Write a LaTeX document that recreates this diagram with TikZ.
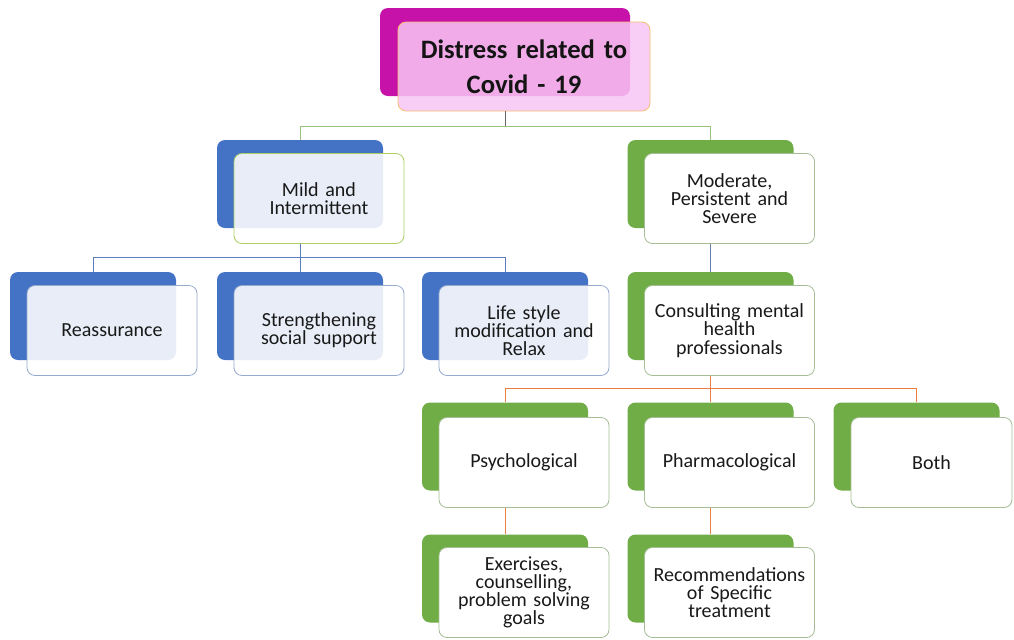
\documentclass[tikz,border=0pt]{standalone}
\usepackage{fontspec}
\setmainfont{Carlito}[WordSpace=0.8]
\usetikzlibrary{positioning}
\definecolor{rootmag}{RGB}{198,18,168}
\definecolor{rootpink}{RGB}{248,198,244}
\definecolor{rootedge}{RGB}{246,190,110}
\definecolor{officeblue}{RGB}{68,114,196}
\definecolor{officegreen}{RGB}{112,173,71}
\definecolor{blueedge}{RGB}{150,170,205}
\definecolor{greenedge}{RGB}{165,190,150}
\definecolor{linkgreen}{RGB}{150,195,120}
\definecolor{linkblue}{RGB}{90,125,190}
\definecolor{linkorange}{RGB}{232,125,70}

\begin{document}
\begin{tikzpicture}[x=0.5pt, y=-0.5pt,
    backbox/.style={rectangle, rounded corners=4pt, minimum width=83pt, minimum height=44pt, inner sep=0pt},
    blueback/.style={backbox, fill=officeblue},
    greenback/.style={backbox, fill=officegreen},
    frontbox/.style={rectangle, rounded corners=4pt, minimum width=85pt, minimum height=45pt, text width=82pt, align=center, inner sep=0pt, font=\fontsize{10}{9.1}\selectfont, text=black!90, text opacity=1},
    bluefront/.style={frontbox, draw=blueedge, fill=white, fill opacity=0.88},
    greenfront/.style={frontbox, draw=greenedge, fill=white},
    link/.style={line width=0.5pt},
]
    \useasboundingbox (0,0) rectangle (1014,639);

    % top level
    \node[backbox, fill=rootmag, minimum width=125pt] (root-b) at (505,52) {};
    \node[frontbox, draw=rootedge, fill=rootpink, fill opacity=0.85, minimum width=126pt, minimum height=44.5pt, text width=124pt, font=\fontsize{13.3}{17.5}\selectfont\bfseries, text=black!92] (root) at ([shift={(19,14.5)}]root-b) {Distress related to\\Covid - 19};

    % second level
    \node[blueback] (mild-b) at (300,184) {};
    \node[bluefront, draw=linkgreen!80!yellow] (mild) at ([shift={(19,14.5)}]mild-b) {Mild and\\Intermittent};
    \node[greenback] (mod-b) at (710.5,184) {};
    \node[greenfront] (mod) at ([shift={(19,14.5)}]mod-b) {Moderate,\\Persistent and\\Severe};

    % third level
    \node[blueback] (reass-b) at (93,316) {};
    \node[bluefront] (reass) at ([shift={(19,14.5)}]reass-b) {Reassurance};
    \node[blueback] (social-b) at (300,316) {};
    \node[bluefront] (social) at ([shift={(19,14.5)}]social-b) {Strengthening\\social support};
    \node[blueback] (life-b) at (505,316) {};
    \node[bluefront] (life) at ([shift={(19,14.5)}]life-b) {Life style\\modification and\\Relax};
    \node[greenback] (consult-b) at (710.5,316) {};
    \node[greenfront] (consult) at ([shift={(19,14.5)}]consult-b) {Consulting mental\\health\\professionals};

    % fourth level
    \node[greenback] (psych-b) at (505,446.5) {};
    \node[greenfront] (psych) at ([shift={(19,16)}]psych-b) {Psychological};
    \node[greenback] (pharma-b) at (710.5,446.5) {};
    \node[greenfront] (pharma) at ([shift={(19,16)}]pharma-b) {Pharmacological};
    \node[greenback] (both-b) at (916.5,446.5) {};
    \node[greenfront, minimum width=80.5pt, text width=76pt] (both) at ([shift={(15,16)}]both-b) {Both};

    % fifth level
    \node[greenback] (exer-b) at (505,578.5) {};
    \node[greenfront] (exer) at ([shift={(19,14)}]exer-b) {Exercises,\\counselling,\\problem solving\\goals};
    \node[greenback] (recom-b) at (710.5,578.5) {};
    \node[greenfront] (recom) at ([shift={(19,14)}]recom-b) {Recommendations\\of Specific\\treatment};

    % connectors
    \draw[link, black!60] (root-b |- root.south) -- ++(0,15) coordinate (rootbar);
    \draw[link, linkgreen] (rootbar) -| (mild-b.north);
    \draw[link, linkgreen] (rootbar) -| (mod-b.north);
    \draw[link, linkblue] (mild-b |- mild.south) -- ++(0,14) coordinate (mildbar);
    \draw[link, linkblue] (mildbar) -| (reass-b.north);
    \draw[link, linkblue] (mildbar) -| (social-b.north);
    \draw[link, linkblue] (mildbar) -| (life-b.north);
    \draw[link, linkblue!70!gray] (mod-b |- mod.south) -- (consult-b.north);
    \draw[link, linkorange] (consult-b |- consult.south) -- ++(0,13) coordinate (consbar);
    \draw[link, linkorange] (consbar) -| (psych-b.north);
    \draw[link, linkorange] (consbar) -| (pharma-b.north);
    \draw[link, linkorange] (consbar) -| (both-b.north);
    \draw[link, linkorange] (psych-b |- psych.south) -- (exer-b.north);
    \draw[link, linkorange] (pharma-b |- pharma.south) -- (recom-b.north);
\end{tikzpicture}
\end{document}
